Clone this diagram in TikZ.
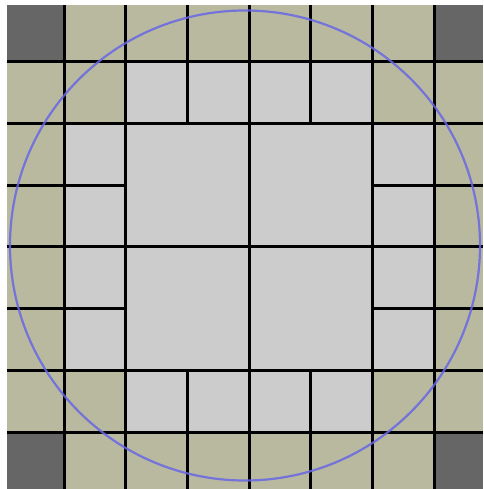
\documentclass[tikz,border=0pt]{standalone}
\begin{document}
\begin{tikzpicture}[x=1pt,y=-1pt,
  gridline/.style={black,line width=3pt},
  ring/.style={draw=blue!55!white!90!black,line width=2.2pt,opacity=0.85}]
\definecolor{lightcell}{HTML}{CCCCCC}
\definecolor{khaki}{HTML}{B9B9A0}
\definecolor{darkcell}{HTML}{666666}
\useasboundingbox (0,0) rectangle (483,489);
% x and y positions of grid lines
\def\Xa{7}\def\Xb{64}\def\Xc{125.7}\def\Xd{187.4}\def\Xe{249.1}\def\Xf{310.8}\def\Xg{372.5}\def\Xh{434.2}\def\Xi{483}
\def\Ya{5}\def\Yb{61.5}\def\Yc{123.3}\def\Yd{185}\def\Ye{246.8}\def\Yf{308.5}\def\Yg{370.2}\def\Yh{432}\def\Yi{489}
% base light
\fill[lightcell] (\Xa,\Ya) rectangle (\Xi,\Yi);
% khaki ring
\fill[khaki] (\Xa,\Ya) rectangle (\Xi,\Yb);
\fill[khaki] (\Xa,\Yh) rectangle (\Xi,\Yi);
\fill[khaki] (\Xa,\Ya) rectangle (\Xb,\Yi);
\fill[khaki] (\Xh,\Ya) rectangle (\Xi,\Yi);
\fill[khaki] (\Xb,\Yb) rectangle (\Xc,\Yc);
\fill[khaki] (\Xg,\Yb) rectangle (\Xh,\Yc);
\fill[khaki] (\Xb,\Yg) rectangle (\Xc,\Yh);
\fill[khaki] (\Xg,\Yg) rectangle (\Xh,\Yh);
% dark corners
\fill[darkcell] (\Xa,\Ya) rectangle (\Xb,\Yb);
\fill[darkcell] (\Xh,\Ya) rectangle (\Xi,\Yb);
\fill[darkcell] (\Xa,\Yh) rectangle (\Xb,\Yi);
\fill[darkcell] (\Xh,\Yh) rectangle (\Xi,\Yi);
% full horizontal lines
\foreach \yy in {\Yb,\Yc,\Ye,\Yg,\Yh}
  \draw[gridline] (\Xa,\yy) -- (\Xi,\yy);
% partial horizontal lines
\foreach \yy in {\Yd,\Yf}{
  \draw[gridline] (\Xa,\yy) -- (\Xc,\yy);
  \draw[gridline] (\Xg,\yy) -- (\Xi,\yy);}
% full vertical lines
\foreach \xx in {\Xb,\Xc,\Xe,\Xg,\Xh}
  \draw[gridline] (\xx,\Ya) -- (\xx,\Yi);
% partial vertical lines
\foreach \xx in {\Xd,\Xf}{
  \draw[gridline] (\xx,\Ya) -- (\xx,\Yc);
  \draw[gridline] (\xx,\Yg) -- (\xx,\Yi);}
% circle
\draw[ring] (245,245.5) circle (235);
\end{tikzpicture}
\end{document}
